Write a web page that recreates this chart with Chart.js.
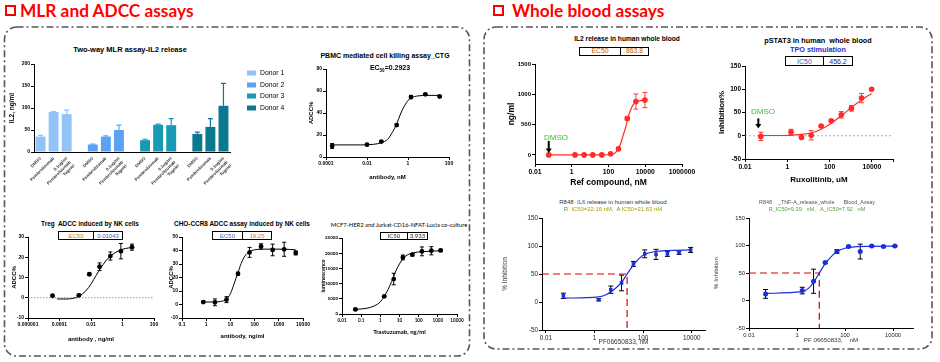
<!DOCTYPE html>
<html><head><meta charset="utf-8">
<script src="https://cdn.jsdelivr.net/npm/chart.js@4.4.1/dist/chart.umd.min.js"></script>
<style>
html,body{margin:0;padding:0;background:#fff;width:940px;height:362px;overflow:hidden;position:relative}
canvas{position:absolute}
.t{position:absolute;white-space:nowrap;transform:translate(-50%,-50%);font-family:'Liberation Sans',Arial,sans-serif;line-height:1;color:#000}
.hdr{position:absolute;white-space:nowrap;font-family:Lato,'Liberation Sans',sans-serif;font-weight:bold;font-size:17.3px;color:#ff0000;line-height:1}
.ico{position:absolute;width:7px;height:7px;border:2px solid #ff0000;background:#fff}
.box{position:absolute;border:1px solid #000;display:flex;box-sizing:border-box;font-family:'Liberation Sans',Arial,sans-serif;line-height:1;background:#fff}
.box span{display:flex;align-items:center;justify-content:center;height:100%}
.lg{position:absolute;font-family:'Liberation Sans',Arial,sans-serif;font-size:6.8px;line-height:1;white-space:nowrap;transform:translateY(-50%)}
.sw{position:absolute;width:9px;height:5px;transform:translateY(-50%)}
</style></head><body>
<svg width="940" height="362" style="position:absolute;left:0;top:0">
  <rect x="4.5" y="27" width="465" height="329" rx="12" ry="12" fill="none" stroke="#555" stroke-width="1.6" stroke-dasharray="7 3 2 3"/>
  <rect x="484" y="27" width="448" height="322" rx="12" ry="12" fill="none" stroke="#555" stroke-width="1.6" stroke-dasharray="7 3 2 3"/>
</svg>
<div class="ico" style="left:5px;top:5px"></div>
<div class="hdr" style="left:20px;top:1.5px">MLR and ADCC assays</div>
<div class="ico" style="left:493px;top:5px"></div>
<div class="hdr" style="left:512px;top:1.5px">Whole blood assays</div>

<canvas id="cBar"></canvas><canvas id="cPbmc"></canvas><canvas id="cTreg"></canvas>
<canvas id="cCho"></canvas><canvas id="cMcf"></canvas><canvas id="cIl2"></canvas>
<canvas id="cPst"></canvas><canvas id="cIl6"></canvas><canvas id="cTnf"></canvas>

<div class="t" style="left:130px;top:50px;font-weight:bold;font-size:7.5px">Two-way MLR assay-IL2 release</div>
<div class="t" style="left:385px;top:55px;font-weight:bold;font-size:7px">PBMC mediated cell killing assay_CTG</div>
<div class="t" style="left:390px;top:69px;font-weight:bold;font-size:7px">EC<sub style="font-size:4.5px">50</sub>=0.2923</div>
<div class="t" style="left:90px;top:224px;font-weight:bold;font-size:6.4px">Treg&nbsp; ADCC induced by NK cells</div>
<div class="t" style="left:242px;top:224px;font-weight:bold;font-size:6.4px">CHO-CCR8 ADCC assay induced by NK cells</div>
<div class="t" style="left:399px;top:225px;font-family:Lato,sans-serif;font-size:5.8px">MCF7-HER2 and Jurkat-CD16-NFAT-Lucia co-culture</div>
<div class="t" style="left:627px;top:39px;font-weight:bold;font-size:6.6px">IL2 release in human whole blood</div>
<div class="t" style="left:818px;top:41px;font-weight:bold;font-size:7.3px">pSTAT3 in human&nbsp; whole blood</div>
<div class="t" style="left:818px;top:50px;font-weight:bold;font-size:7.3px;color:#2233cc">TPO stimulation</div>
<div class="t" style="left:613px;top:202px;font-size:6px;color:#333">R848&nbsp; <span style="color:#2a4fc0">IL6</span> release in human whole blood</div>
<div class="t" style="left:613px;top:210px;font-size:5.9px"><span style="color:#3c9a3c">R</span>&nbsp; <span style="color:#a89a00">IC50=22.16 nM,</span>&nbsp; <span style="color:#3c9a3c">A</span> <span style="color:#a89a00">IC50=21.63 nM</span></div>
<div class="t" style="left:817px;top:203px;font-size:5.4px;color:#555">R848&nbsp;&nbsp;&nbsp; _TNF-A_release_whole&nbsp;&nbsp;&nbsp;&nbsp;&nbsp; Blood_Assay</div>
<div class="t" style="left:817px;top:210px;font-size:5.6px;color:#5aa03a">R_IC50=9.39&nbsp;&nbsp; nM,&nbsp;&nbsp; A_IC50=7.92&nbsp;&nbsp; nM</div>
<div class="t" style="left:556px;top:138px;font-size:8px;color:#2ec82e">DMSO</div>
<div class="t" style="left:763px;top:112px;font-size:8px;color:#2ec82e">DMSO</div>
<div id="legend"></div>

<script>
// ---------------- DATA ----------------
// Two-way MLR bar chart
const barTreatments = ['DMSO', 'Pembrolizumab', ['0.1ug/ml', 'Pembrolizumab', 'Tugeiel']];
const donorNames = ['Donor 1', 'Donor 2', 'Donor 3', 'Donor 4'];
const donorColors = ['#93c2f7', '#5aa2f4', '#1899b4', '#0a7990'];
const donor1IL2 = [35, 91, 86];
const donor1SD  = [3, 1, 9];
const donor2IL2 = [17, 35, 50];
const donor2SD  = [1, 1.5, 11];
const donor3IL2 = [27, 62, 61];
const donor3SD  = [2, 1.5, 15];
const donor4IL2 = [41, 57, 105];
const donor4SD  = [4, 19, 51];
const barYTicks = [0, 50, 100, 150, 200];

// PBMC killing
const pbmcConc = [0.0002, 0.01, 0.05, 0.28, 1.4, 7, 35];
const pbmcADCC = [10, 11.2, 14, 29, 54.5, 57, 55];
const pbmcSD   = [2.2, 0.8, 0.8, 1, 1.5, 0.8, 0.8];
const pbmcFitConc = [0.0002, 0.005, 0.02, 0.05, 0.1, 0.18, 0.28, 0.45, 0.7, 1, 1.5, 3, 8, 35];
const pbmcFitADCC = [11, 11, 11.5, 13, 16, 23, 30, 40, 47, 51.5, 54, 55.5, 56, 56];
const pbmcXTicks = [0.0001, 0.01, 1, 100];
const pbmcXLabels = ['0.0001', '0.01', '1', '100'];
const pbmcYTicks = [0, 20, 40, 60, 80];

// Treg ADCC
const tregConc = [3.6e-5, 1.7e-3, 7.9e-3, 0.035, 0.17, 0.79, 4];
const tregADCC = [1, 1.2, 11.6, 15.3, 20.6, 23, 25];
const tregSD   = [0.3, 0.5, 0.6, 1.9, 2, 3.8, 1.5];
const tregFitConc = [7e-5, 3e-4, 1e-3, 3e-3, 7e-3, 0.015, 0.03, 0.06, 0.12, 0.25, 0.6, 1.5, 4];
const tregFitADCC = [-0.6, -0.6, 0, 2, 5, 9, 13, 16.5, 19.5, 21.5, 23.3, 24.3, 24.8];
const tregXTicks = [1e-6, 1e-4, 0.01, 1, 100];
const tregXLabels = ['0.000001', '0.0001', '0.01', '1', '100'];
const tregYTicks = [-10, 0, 10, 20, 30];

// CHO-CCR8 ADCC
const choConc = [0.76, 2.3, 6.9, 20.6, 62, 185, 556, 1667, 5000];
const choADCC = [1.8, 1.6, 3.6, 22.8, 38.6, 43, 40.4, 40.9, 38.2];
const choSD   = [0.5, 2.5, 2.2, 1, 3.7, 2, 4.3, 5.2, 1.5];
const choFitConc = [0.76, 2, 4, 7, 10, 14, 20, 28, 40, 60, 100, 200, 500, 1500, 5000];
const choFitADCC = [1.8, 1.9, 2.3, 4, 8, 15, 23, 30.5, 36, 39, 40.5, 41, 41, 41, 40.5];
const choXTicks = [0.1, 1, 10, 100, 1000, 10000];
const choXLabels = ['0.1', '1', '10', '100', '1000', '10000'];
const choYTicks = [-10, 0, 10, 20, 30, 40, 50];

// MCF7 / Jurkat co-culture
const mcfConc = [0.05, 1.6, 5, 15, 47, 148, 460, 1400];
const mcfLum  = [1500, 5800, 11500, 18600, 19500, 20600, 20800, 20900];
const mcfSD   = [300, 300, 1900, 800, 400, 1450, 1350, 400];
const mcfFitConc = [0.05, 0.2, 0.5, 1, 1.6, 2.5, 3.9, 6, 10, 15, 25, 50, 150, 500, 1400];
const mcfFitLum  = [1500, 1900, 2700, 4000, 5800, 8000, 10700, 13700, 16500, 18200, 19400, 20100, 20500, 20700, 20800];
const mcfXTicks = [0.01, 0.1, 1, 10, 100, 1000, 10000];
const mcfXLabels = ['0.01', '0.1', '1', '10', '100', '1000', '10000'];
const mcfYTicks = [0, 5000, 10000, 15000, 20000, 25000];

// IL2 release whole blood
const il2Conc = [0.056, 1.5, 4.7, 14, 43, 130, 350, 1050, 3100, 9600];
const il2Val  = [0, 0, 0, 0, 0, 20, 100, 600, 880, 905];
const il2SD   = [5, 5, 5, 5, 5, 10, 15, 27, 125, 125];
const il2FitConc = [0.056, 1, 10, 100, 200, 300, 450, 650, 900, 1100, 1500, 2200, 3500, 9600];
const il2FitVal  = [0, 0, 0, 3, 20, 70, 180, 340, 480, 590, 720, 830, 880, 905];
const il2XTicks = [0.01, 1, 100, 10000, 1000000];
const il2XLabels = ['0.01', '1', '100', '10000', '1000000'];
const il2YTicks = [0, 500, 1000, 1500];

// pSTAT3 whole blood
const pstConc = [0.056, 1.5, 4.7, 13.5, 40, 120, 360, 1080, 3250, 9700];
const pstInh  = [-1.4, 8, -3.5, 1, 21, 32, 45, 59, 81, 100];
const pstSD   = [9, 6, 1, 10, 1.5, 1.5, 7, 6, 10, 1];
const pstFitConc = [0.056, 1.5, 4.7, 13.5, 40, 120, 360, 1080, 3250, 9700];
const pstFitInh  = [0.5, 1, 3, 6, 14, 27, 43, 61, 77, 91];
const pstXTicks = [0.01, 1, 100, 10000, 100000];
const pstXLabels = ['0.01', '1', '100', '10000', ''];
const pstYTicks = [-50, 0, 50, 100, 150];

// R848 IL6 release
const il6Conc = [0.053, 1.5, 4.7, 13, 40, 117, 340, 1000, 3000, 9000];
const il6Inh  = [11, 4, 22, 34, 68, 86, 85, 86, 88, 93];
const il6SD   = [4.8, 2, 6.5, 14, 4.5, 7, 9, 4.5, 3, 4.5];
const il6FitConc = [0.053, 1.5, 3, 4.7, 8, 13, 22, 40, 70, 117, 300, 1000, 10000];
const il6FitInh  = [7, 9, 13, 18, 26, 35, 50, 66, 78, 85, 90, 92, 93];
const il6IC50 = 22;
const il6XTicks = [0.01, 1, 100, 10000];
const il6XLabels = ['0.01', '1', '100', '10000'];

// R848 TNF-A release
const tnfConc = [0.049, 1.66, 4.9, 15, 46, 140, 430, 1300, 4000, 12000];
const tnfInh  = [12, 18, 35, 69, 89, 98, 89, 99, 98, 99];
const tnfSD   = [8, 6, 22, 2, 3.4, 1.5, 13.5, 1, 1, 1];
const tnfFitConc = [0.049, 1.66, 3, 4.9, 8.5, 15, 30, 46, 100, 300, 1000, 12000];
const tnfFitInh  = [13, 16, 22, 33, 50, 67, 82, 89, 95, 98, 98.5, 99];
const tnfIC50 = 8.5;
const wbYTicks = [-50, 0, 50, 100, 150];

// ---------------- HELPERS ----------------
const F = "'Liberation Sans', Arial, Helvetica, sans-serif";
const LA = "Lato, 'Liberation Sans', sans-serif";
Chart.defaults.font.family = F;
Chart.defaults.animation = false;
Chart.defaults.responsive = false;
Chart.defaults.plugins.legend.display = false;
Chart.defaults.plugins.tooltip.enabled = false;

function drawErr(chart, after) {
  const ctx = chart.ctx;
  chart.data.datasets.forEach((ds, i) => {
    if (!ds.errors || !!ds.errAfter !== after) return;
    const meta = chart.getDatasetMeta(i);
    const ys = chart.scales[meta.yAxisID];
    ctx.save();
    ctx.strokeStyle = ds.errColor || '#000';
    ctx.lineWidth = ds.errWidth || 1;
    meta.data.forEach((el, j) => {
      const e = ds.errors[j];
      const raw = ds.data[j];
      const v = (raw && typeof raw === 'object') ? raw.y : raw;
      if (v == null || e == null) return;
      const x = el.x;
      const yT = ys.getPixelForValue(v + e);
      const yB = ds.errUpOnly ? ys.getPixelForValue(v) : ys.getPixelForValue(v - e);
      const cw = ds.errCap || 2;
      ctx.beginPath();
      ctx.moveTo(x, yT); ctx.lineTo(x, yB);
      ctx.moveTo(x - cw, yT); ctx.lineTo(x + cw, yT);
      if (!ds.errUpOnly) { ctx.moveTo(x - cw, yB); ctx.lineTo(x + cw, yB); }
      ctx.stroke();
    });
    ctx.restore();
  });
}
const errorBarPlugin = {
  id: 'errbars',
  beforeDatasetsDraw(chart) { drawErr(chart, false); },
  afterDatasetsDraw(chart) { drawErr(chart, true); }
};
const arrowPlugin = {
  id: 'dmsoArrow',
  afterDatasetsDraw(chart, args, o) {
    if (!o || !o.len) return;
    const el = chart.getDatasetMeta(o.ds).data[o.idx];
    const ctx = chart.ctx;
    const x = el.x + (o.dx || 0), tip = el.y - o.gap, top = tip - o.len;
    ctx.save();
    ctx.strokeStyle = '#000'; ctx.fillStyle = '#000'; ctx.lineWidth = 2;
    ctx.beginPath(); ctx.moveTo(x, top); ctx.lineTo(x, tip - 3); ctx.stroke();
    ctx.beginPath(); ctx.moveTo(x - 3, tip - 4.5); ctx.lineTo(x + 3, tip - 4.5); ctx.lineTo(x, tip); ctx.closePath(); ctx.fill();
    ctx.restore();
  }
};
Chart.register(errorBarPlugin, arrowPlugin);

const zip = (xs, ys) => xs.map((x, i) => ({x: x, y: ys[i]}));

function axisCommon(o) {
  return {
    grid: {display: o.tickMarks !== false, drawOnChartArea: false, drawTicks: true, tickLength: o.tickLen || 3, color: o.axisColor || '#000', lineWidth: 1},
    border: {display: true, color: o.axisColor || '#000', width: 1},
    title: {display: !!o.title, text: o.title || '', font: o.titleFont, color: o.titleColor || '#000', padding: 0}
  };
}
function logX(o) {
  return Object.assign(axisCommon(o), {
    type: 'logarithmic', position: 'bottom', min: o.min, max: o.max,
    afterBuildTicks: s => { s.ticks = o.ticks.map(v => ({value: v})); },
    ticks: {callback: v => { const i = o.ticks.indexOf(v); return i >= 0 ? o.labels[i] : ''; },
            font: o.font, color: o.color || '#000', padding: 1, autoSkip: false, maxRotation: 0, minRotation: 0}
  });
}
function linY(o) {
  return Object.assign(axisCommon(o), {
    type: 'linear', position: 'left', min: o.min, max: o.max,
    afterBuildTicks: s => { s.ticks = o.ticks.map(v => ({value: v})); },
    ticks: {callback: v => String(v), font: o.font, color: o.color || '#000', padding: 1, autoSkip: false}
  });
}
function makeChart(id, plot, m, config) {
  const c = document.getElementById(id);
  const left = Math.round(plot.l - m.l), top = Math.round(plot.t - m.t);
  const W = Math.round(plot.r + m.r) - left, H = Math.round(plot.b + m.b) - top;
  c.style.left = left + 'px'; c.style.top = top + 'px';
  c.width = W; c.height = H; c.style.width = W + 'px'; c.style.height = H + 'px';
  const yw = plot.l - left, xh = top + H - plot.b;
  const zero = s => { s.paddingLeft = 0; s.paddingRight = 0; s.paddingTop = 0; s.paddingBottom = 0; };
  config.options.scales.x.afterFit = s => { s.height = xh; zero(s); };
  config.options.scales.y.afterFit = s => { s.width = yw; zero(s); };
  config.options.layout = {padding: {left: 0, top: plot.t - top, right: left + W - plot.r, bottom: 0}};
  return new Chart(c, config);
}
function curveChart(id, plot, m, d) {
  const datasets = [
    {data: zip(d.x, d.y), showLine: false, pointRadius: d.pr || 2.4, pointStyle: d.ps || 'circle',
     pointBackgroundColor: d.pc || '#000', pointBorderWidth: 0, errors: d.sd, errColor: d.ec || '#000',
     errCap: d.cap || 2, errWidth: d.ew || 1, clip: false},
    {data: zip(d.fx, d.fy), showLine: true, pointRadius: 0, borderColor: d.lc || '#000', borderWidth: d.lw || 1,
     tension: 0.4, cubicInterpolationMode: 'monotone', fill: false, clip: false}
  ];
  (d.extra || []).forEach(e => datasets.push(e));
  return makeChart(id, plot, m, {
    type: 'scatter',
    data: {datasets: datasets},
    options: {scales: {x: logX(d.xa), y: linY(d.ya)}, plugins: {dmsoArrow: d.arrow || {}}}
  });
}

// ---------------- BAR CHART ----------------
const donorIL2 = [donor1IL2, donor2IL2, donor3IL2, donor4IL2];
const donorSD = [donor1SD, donor2SD, donor3SD, donor4SD];
const barLabels = [];
donorNames.forEach((n, g) => { barTreatments.forEach(t => barLabels.push(t)); if (g < donorNames.length - 1) barLabels.push(''); });
const barSets = donorNames.map((n, g) => {
  const data = barLabels.map(() => null), err = barLabels.map(() => null);
  donorIL2[g].forEach((v, t) => { data[g * 4 + t] = v; err[g * 4 + t] = donorSD[g][t]; });
  return {label: n, data: data, backgroundColor: donorColors[g], borderWidth: 0, grouped: false,
          barPercentage: 0.76, categoryPercentage: 1, errors: err, errUpOnly: true, errAfter: true,
          errColor: donorColors[g], errCap: 2.5, errWidth: 1.2};
});
const barX = Object.assign(axisCommon({tickMarks: false}), {
  type: 'category', offset: true,
  ticks: {font: {size: 4.3, weight: 'bold'}, color: '#333', maxRotation: 45, minRotation: 45, autoSkip: false, padding: 1}
});
makeChart('cBar', {l: 34, r: 230, t: 64, b: 152}, {l: 26, r: 4, t: 6, b: 48}, {
  type: 'bar',
  data: {labels: barLabels, datasets: barSets},
  options: {scales: {x: barX, y: linY({min: 0, max: 200, ticks: barYTicks, font: {size: 5, weight: 'bold'},
            title: 'IL2, ng/ml', titleFont: {size: 6.5, weight: 'bold'}})}}
});
// HTML legend
const lgEl = document.getElementById('legend');
const lgY = [73, 84.5, 96, 107.5];
donorNames.forEach((n, i) => {
  const sw = document.createElement('div'); sw.className = 'sw';
  sw.style.left = '247px'; sw.style.top = lgY[i] + 'px'; sw.style.background = donorColors[i];
  const tx = document.createElement('div'); tx.className = 'lg';
  tx.style.left = '260px'; tx.style.top = lgY[i] + 'px'; tx.textContent = n;
  lgEl.appendChild(sw); lgEl.appendChild(tx);
});

// ---------------- CURVE CHARTS ----------------
const b5 = {size: 5, weight: 'bold'}, b6 = {size: 6, weight: 'bold'};
curveChart('cPbmc', {l: 326, r: 449, t: 69, b: 157}, {l: 18, r: 10, t: 5, b: 24}, {
  x: pbmcConc, y: pbmcADCC, sd: pbmcSD, fx: pbmcFitConc, fy: pbmcFitADCC,
  xa: {min: 0.0001, max: 100, ticks: pbmcXTicks, labels: pbmcXLabels, font: b5, title: 'antibody, nM', titleFont: b6},
  ya: {min: 0, max: 80, ticks: pbmcYTicks, font: b5, title: 'ADCC%', titleFont: b6}
});
curveChart('cTreg', {l: 28, r: 154, t: 237, b: 318}, {l: 17, r: 8, t: 5, b: 25}, {
  x: tregConc, y: tregADCC, sd: tregSD, fx: tregFitConc, fy: tregFitADCC,
  xa: {min: 1e-6, max: 100, ticks: tregXTicks, labels: tregXLabels, font: b5, title: 'antibody , ng/ml', titleFont: b6},
  ya: {min: -10, max: 30, ticks: tregYTicks, font: b5, title: 'ADCC%', titleFont: b6},
  extra: [{data: [{x: 1e-6, y: 0}, {x: 100, y: 0}], showLine: true, pointRadius: 0, borderColor: '#777',
           borderWidth: 0.8, borderDash: [1.5, 1.5]}]
});
curveChart('cCho', {l: 182, r: 303, t: 237, b: 318}, {l: 14, r: 10, t: 5, b: 22}, {
  x: choConc, y: choADCC, sd: choSD, fx: choFitConc, fy: choFitADCC,
  xa: {min: 0.1, max: 10000, ticks: choXTicks, labels: choXLabels, font: b5, title: 'antibody, ng/ml', titleFont: b6},
  ya: {min: -10, max: 50, ticks: choYTicks, font: b5, title: 'ADCC%', titleFont: b6}
});
curveChart('cMcf', {l: 342, r: 457, t: 238, b: 314}, {l: 22, r: 10, t: 5, b: 22}, {
  x: mcfConc, y: mcfLum, sd: mcfSD, fx: mcfFitConc, fy: mcfFitLum,
  xa: {min: 0.01, max: 10000, ticks: mcfXTicks, labels: mcfXLabels, font: {family: LA, size: 4.6, weight: 'bold'},
       title: 'Trastuzumab, ng/ml', titleFont: {family: LA, size: 6, weight: 'bold'}},
  ya: {min: 0, max: 25000, ticks: mcfYTicks, font: {family: LA, size: 4.5, weight: 'bold'},
       title: 'luminescence', titleFont: {family: LA, size: 5.5, weight: 'bold'}}
});
curveChart('cIl2', {l: 535, r: 682, t: 64, b: 164}, {l: 28, r: 15, t: 5, b: 24}, {
  x: il2Conc, y: il2Val, sd: il2SD, fx: il2FitConc, fy: il2FitVal,
  pc: '#ff2b2b', pr: 2.8, ec: '#ff3b3b', lc: '#ff2b2b', lw: 1.2, cap: 2.5,
  xa: {min: 0.01, max: 1000000, ticks: il2XTicks, labels: il2XLabels, font: {size: 6.8, weight: 'bold'},
       title: 'Ref compound, nM', titleFont: {size: 8.5, weight: 'bold'}},
  ya: {min: -150, max: 1500, ticks: il2YTicks, font: {size: 6, weight: 'bold'}, title: 'ng/ml', titleFont: {size: 8.5, weight: 'bold'}},
  arrow: {ds: 0, idx: 0, dx: 0, gap: 2, len: 12}
});
curveChart('cPst', {l: 745, r: 893, t: 66, b: 159}, {l: 28, r: 10, t: 5, b: 26}, {
  x: pstConc, y: pstInh, sd: pstSD, fx: pstFitConc, fy: pstFitInh,
  pc: '#ff2b2b', pr: 2.8, ec: '#ff3b3b', lc: '#ff2b2b', lw: 1.2, cap: 2.5,
  xa: {min: 0.01, max: 100000, ticks: pstXTicks, labels: pstXLabels, font: {size: 6.8, weight: 'bold'},
       title: 'Ruxolitinib, uM', titleFont: {size: 8, weight: 'bold'}},
  ya: {min: -50, max: 150, ticks: pstYTicks, font: {size: 6.5, weight: 'bold'}, title: 'Inhibition%', titleFont: {size: 8, weight: 'bold'}},
  arrow: {ds: 0, idx: 0, dx: -2.5, gap: 8, len: 10},
  extra: [{data: [{x: 0.01, y: 0}, {x: 100000, y: 0}], showLine: true, pointRadius: 0, borderColor: '#999',
           borderWidth: 0.8, borderDash: [2, 2]}]
});
const n6 = {size: 6.3}, nT = {size: 6.5};
curveChart('cIl6', {l: 542, r: 705, t: 218, b: 330}, {l: 41, r: 5, t: 5, b: 16}, {
  x: il6Conc, y: il6Inh, sd: il6SD, fx: il6FitConc, fy: il6FitInh,
  pc: '#1a2ee0', pr: 2.5, ps: 'rect', lc: '#1a2ee0', lw: 1.2, cap: 2.5,
  xa: {min: 0.007, max: 35000, ticks: il6XTicks, labels: il6XLabels, font: n6, color: '#222', title: 'PF06650833, nM', titleFont: nT, titleColor: '#333'},
  ya: {min: -50, max: 150, ticks: wbYTicks, font: n6, color: '#222', title: '% Inhibition', titleFont: nT, titleColor: '#333'},
  extra: [{data: [{x: 0.007, y: 50}, {x: il6IC50, y: 50}, {x: il6IC50, y: -50}], showLine: true, pointRadius: 0,
           borderColor: '#e00000', borderWidth: 1.2, borderDash: [7, 4], tension: 0}]
});
curveChart('cTnf', {l: 749, r: 913, t: 218, b: 328}, {l: 36, r: 5, t: 5, b: 16}, {
  x: tnfConc, y: tnfInh, sd: tnfSD, fx: tnfFitConc, fy: tnfFitInh,
  pc: '#1a2ee0', pr: 2.5, lc: '#1a2ee0', lw: 1.2, cap: 2.5,
  xa: {min: 0.01, max: 68000, ticks: il6XTicks, labels: il6XLabels, font: {size: 5.8}, color: '#222', title: 'PF 06650833,    nM', titleFont: {size: 6.2}, titleColor: '#333'},
  ya: {min: -50, max: 150, ticks: wbYTicks, font: {size: 5.8}, color: '#222', title: '% Inhibition', titleFont: {size: 6.2}, titleColor: '#333'},
  extra: [{data: [{x: 0.01, y: 50}, {x: tnfIC50, y: 50}, {x: tnfIC50, y: -50}], showLine: true, pointRadius: 0,
           borderColor: '#e00000', borderWidth: 1.2, borderDash: [7, 4], tension: 0}]
});

// ---------------- VALUE BOXES ----------------
function valBox(x0, y0, x1, y1, xd, lt, lc, rt, rc, fs, fam) {
  const b = document.createElement('div'); b.className = 'box';
  b.style.left = x0 + 'px'; b.style.top = y0 + 'px'; b.style.width = (x1 - x0) + 'px'; b.style.height = (y1 - y0) + 'px';
  b.style.fontSize = fs + 'px'; if (fam) b.style.fontFamily = fam;
  const a = document.createElement('span'); a.style.width = (xd - x0) + 'px'; a.style.color = lc; a.textContent = lt;
  a.style.borderRight = '1px solid #000'; a.style.boxSizing = 'border-box';
  const c = document.createElement('span'); c.style.flex = '1'; c.style.color = rc; c.textContent = rt;
  b.appendChild(a); b.appendChild(c); document.body.appendChild(b);
}
valBox(58, 231, 123, 240, 93, 'EC50', '#e07b00', '0.01043', '#3355dd', 6);
valBox(212, 231, 272, 240, 242, 'EC50', '#4466cc', '19.25', '#e07b00', 6);
valBox(380, 232, 428, 240, 407, 'IC50', '#222', '3.933', '#222', 6, LA);
valBox(579, 47, 649, 56, 620, 'EC50', '#c06000', '863.8', '#c06000', 6.8);
valBox(785, 56, 853, 66, 823, 'IC50', '#3355cc', '456.2', '#222288', 7);
</script>
</body></html>
